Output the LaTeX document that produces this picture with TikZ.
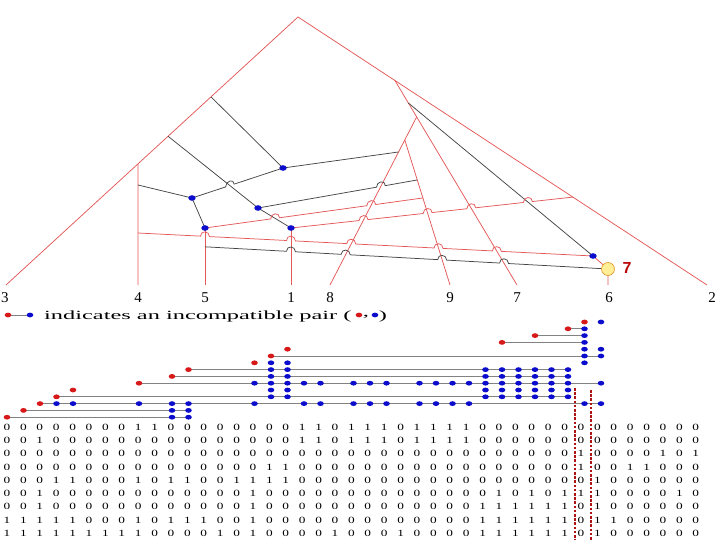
\documentclass[tikz,border=0pt]{standalone}
\usepackage{fontspec}
\setmainfont{Liberation Serif}
\newfontfamily\labelsans{Liberation Sans}
\usepackage{graphicx}
\usetikzlibrary{calc}
\definecolor{TreeRed}{RGB}{228, 88, 88}
\definecolor{TreeGray}{RGB}{70, 70, 70}
\definecolor{DotBlue}{RGB}{12, 12, 205}
\definecolor{DotRed}{RGB}{215, 25, 25}
\definecolor{PairGray}{RGB}{130, 130, 130}
\definecolor{BoxRed}{RGB}{175, 20, 20}
\definecolor{NodeYellow}{RGB}{255, 238, 150}
\definecolor{NodeOrange}{RGB}{225, 150, 40}
\definecolor{LabelRed}{RGB}{185, 10, 10}

\tikzset{
  redline/.style={TreeRed, line width=0.75pt},
  blackline/.style={TreeGray, line width=0.75pt},
  pairline/.style={PairGray, line width=0.8pt},
  boxline/.style={BoxRed, line width=2.6pt, dash pattern=on 2.6pt off 1.6pt},
  leaf/.style={font=\fontsize{15}{15}\selectfont, inner sep=0pt},
  digit/.style={font=\fontsize{9.5}{10}\selectfont, inner sep=0pt},
  legendtext/.style={font=\fontsize{12.5}{13}\selectfont, inner sep=0pt},
  hopover/.style 2 args={insert path={-- ($(#1)!-4.5pt!(#2)$) .. controls +(0,-6) and +(0,-6) .. ($(#1)!4.5pt!(#2)$)}},
}

\begin{document}
\begin{tikzpicture}[x=1pt,y=-1pt]
  \path[use as bounding box] (0,0) rectangle (720,540);

  % network frame
  \coordinate (L) at (6,285);
  \coordinate (T) at (298,17);
  \coordinate (R) at (707,285);
  \foreach \x/\lab in {138/4,205/5,291/1,330/8,450/9,517/7,608/6}
    \coordinate (n\lab) at (\x,285);
  \coordinate (v4) at ($(L)!0.452!(T)$);
  \coordinate (k1) at ($(L)!0.702!(T)$);
  \coordinate (k2) at ($(L)!0.555!(T)$);
  \coordinate (k3) at (138,185);
  \coordinate (e0) at (138,233);
  \coordinate (rt) at ($(T)!0.237!(R)$);
  \coordinate (dE) at ($(T)!0.672!(R)$);
  \coordinate (A) at ($(rt)!0.178!(n7)$);
  \coordinate (kd) at ($(rt)!0.11!(n7)$);
  \coordinate (B) at ($(A)!0.137!(n8)$);
  \coordinate (aE) at ($(B)!0.083!(n8)$);
  \coordinate (bE) at ($(B)!0.276!(n9)$);
  \coordinate (cE) at ($(B)!0.4!(n9)$);
  \coordinate (b1) at (283,168);
  \coordinate (b2) at (192,198);
  \coordinate (b3) at (258,208);
  \coordinate (b4) at (205,228);
  \coordinate (b5) at (291,228);
  \coordinate (b6) at (593,256);
  \coordinate (y7) at (608,269);
  \coordinate (f0) at ($(b4)!0.33!(n5)$);

  \coordinate (xg) at (intersection of b2--b1 and k2--b3);
  \coordinate (xb) at (intersection of b3--bE and B--n8);
  \coordinate (xc1) at (intersection of b4--cE and b3--b5);
  \coordinate (xc2) at (intersection of b4--cE and B--n8);
  \coordinate (xd1) at (intersection of b5--dE and B--n8);
  \coordinate (xd2) at (intersection of b5--dE and B--n9);
  \coordinate (xd3) at (intersection of b5--dE and A--n7);
  \coordinate (xd4) at (intersection of b5--dE and kd--b6);
  \coordinate (xe1) at (intersection of e0--b6 and b4--n5);
  \coordinate (xe2) at (intersection of e0--b6 and b5--n1);
  \coordinate (xe3) at (intersection of e0--b6 and B--n8);
  \coordinate (xe4) at (intersection of e0--b6 and B--n9);
  \coordinate (xe5) at (intersection of e0--b6 and A--n7);
  \coordinate (xf1) at (intersection of f0--y7 and b5--n1);
  \coordinate (xf2) at (intersection of f0--y7 and B--n8);
  \coordinate (xf3) at (intersection of f0--y7 and B--n9);
  \coordinate (xf4) at (intersection of f0--y7 and A--n7);

  \draw[redline] (L) -- (T) -- (R);
  \draw[redline] (v4) -- (n4);
  \draw[redline] (b4) -- (n5);
  \draw[redline] (b5) -- (n1);
  \draw[redline] (rt) -- (n7);
  \draw[redline] (A) -- (n8);
  \draw[redline] (B) -- (n9);
  \draw[redline] (b6) -- (y7) -- (n6);

  \draw[blackline] (k1) -- (b1);
  \draw[blackline] (k2) -- (b3) -- (b5);
  \draw[blackline] (k3) -- (b2) -- (b4);
  \draw[blackline] (kd) -- (b6);
  \draw[blackline] (b1) -- (aE);
  \draw[blackline] (b2) [hopover={xg}{b1}] -- (b1);
  \draw[blackline] (b3) [hopover={xb}{bE}] -- (bE);
  \draw[redline] (b4) [hopover={xc1}{cE}] [hopover={xc2}{cE}] -- (cE);
  \draw[redline] (b5) [hopover={xd1}{dE}] [hopover={xd2}{dE}] [hopover={xd3}{dE}] [hopover={xd4}{dE}] -- (dE);
  \draw[redline] (e0) [hopover={xe1}{b6}] [hopover={xe2}{b6}] [hopover={xe3}{b6}] [hopover={xe4}{b6}] [hopover={xe5}{b6}] -- (b6);
  \draw[blackline] (f0) [hopover={xf1}{y7}] [hopover={xf2}{y7}] [hopover={xf3}{y7}] [hopover={xf4}{y7}] -- (y7);

  \foreach \b in {b1,b2,b3,b4,b5,b6}
    \fill[DotBlue] (\b) ellipse [x radius=3.7, y radius=2.8];
  \node[circle, draw=NodeOrange, fill=NodeYellow, line width=0.6pt, minimum size=13pt, inner sep=0pt] (c7) at (y7) {};
  \node[text=LabelRed, font=\labelsans\bfseries\fontsize{16}{16}\selectfont, inner sep=0pt] (lab7) at (627,268) {7};

  \foreach \x/\lab in {5/3,138/4,205/5,291/1,330/8,450/9,517/7,609/6,712/2}
    \node[leaf] (leaf\lab) at (\x,298) {\lab};

  % legend
  \draw[pairline] (8,315) -- (30,315);
  \fill[DotRed] (8,315) ellipse [x radius=3.3, y radius=2.4];
  \fill[DotBlue] (30,315) ellipse [x radius=3.3, y radius=2.4];
  \node[legendtext, anchor=west] (legend) at (44,316) {\scalebox{1.95}[1]{indicates an incompatible pair (}};
  \fill[DotRed] (359,315) ellipse [x radius=3.3, y radius=2.4];
  \node[legendtext] (comma) at (366,317) {\scalebox{1.95}[1]{,}};
  \fill[DotBlue] (375,315) ellipse [x radius=3.3, y radius=2.4];
  \node[legendtext] (close) at (383,316) {\scalebox{1.95}[1]{)}};

  % incompatible pairs
  \foreach \r/\red/\last/\blues in {
      1/36/0/{37}, 2/35/36/{36}, 3/33/36/{36}, 4/31/36/{36},
      5/18/0/{36,37}, 6/17/37/{36,37}, 7/16/0/{17,18,36},
      8/12/35/{17,18,30,31,32,33,34,35},
      9/11/35/{17,18,30,31,32,33,34,35},
      10/9/37/{16,17,18,19,20,22,23,24,26,27,28,29,30,31,32,33,34,35,37},
      11/5/0/{17,18,30,31,32,33,34,35},
      12/4/35/{17,18,30,31,32,33,34,35},
      13/3/37/{4,5,9,11,12,16,19,20,22,23,24,26,27,28,29,36,37},
      14/2/12/{11,12}, 15/1/12/{11,12}}{
    \pgfmathsetmacro\yy{322+6.8*(\r-1)}
    \ifnum\last>0
      \draw[pairline] ({7+16.5*(\red-1)},\yy) -- ({7+16.5*(\last-1)},\yy);
    \fi
    \foreach \k in \blues
      \fill[DotBlue] ({7+16.5*(\k-1)},\yy) ellipse [x radius=3.3, y radius=2.4];
    \fill[DotRed] ({7+16.5*(\red-1)},\yy) ellipse [x radius=3.3, y radius=2.4];
  }

  % character matrix
  \foreach \r/\bits in {
      1/{0,0,0,0,0,0,0,0,1,1,0,0,0,0,0,0,0,0,1,1,0,1,1,1,0,1,1,1,1,0,0,0,0,0,0,0,0,0,0,0,0,0,0},
      2/{0,0,1,0,0,0,0,0,0,0,0,0,0,0,0,0,0,0,1,1,0,1,1,1,0,1,1,1,1,0,0,0,0,0,0,0,0,0,0,0,0,0,0},
      3/{0,0,0,0,0,0,0,0,0,0,0,0,0,0,0,0,0,0,0,0,0,0,0,0,0,0,0,0,0,0,0,0,0,0,0,1,0,0,0,0,1,0,1},
      4/{0,0,0,0,0,0,0,0,0,0,0,0,0,0,0,0,1,1,0,0,0,0,0,0,0,0,0,0,0,0,0,0,0,0,0,1,0,0,1,1,0,0,0},
      5/{0,0,0,1,1,0,0,0,1,0,1,1,0,0,1,1,1,1,0,0,0,0,0,0,0,0,0,0,0,0,0,0,0,0,0,0,1,0,0,0,0,0,0},
      6/{0,0,1,0,0,0,0,0,0,0,0,0,0,0,0,1,0,0,0,0,0,0,0,0,0,0,0,0,0,0,1,0,1,0,1,1,1,0,0,0,0,1,0},
      7/{0,0,1,0,0,0,0,0,0,0,0,0,0,0,0,1,0,0,0,0,0,0,0,0,0,0,0,0,0,1,1,1,1,1,1,0,1,0,0,0,0,0,0},
      8/{1,1,1,1,1,0,0,0,1,0,1,1,1,0,0,1,0,0,0,0,0,0,0,0,0,0,0,0,0,1,1,1,1,1,1,0,1,1,0,0,0,0,0},
      9/{1,1,1,1,1,1,1,1,1,0,0,0,0,1,0,1,0,0,0,0,1,0,0,0,1,0,0,0,0,1,1,1,1,1,1,0,1,0,0,0,0,0,0}}{
    \foreach \b [count=\c] in \bits
      \node[digit] (m\r-\c) at ({7+16.4*(\c-1)},{427+13.3*(\r-1)}) {\scalebox{1.4}[1]{\b}};
  }
  \draw[boxline] (575,388) -- (575,542);
  \draw[boxline] (591,390) -- (591,542);
\end{tikzpicture}
\end{document}
